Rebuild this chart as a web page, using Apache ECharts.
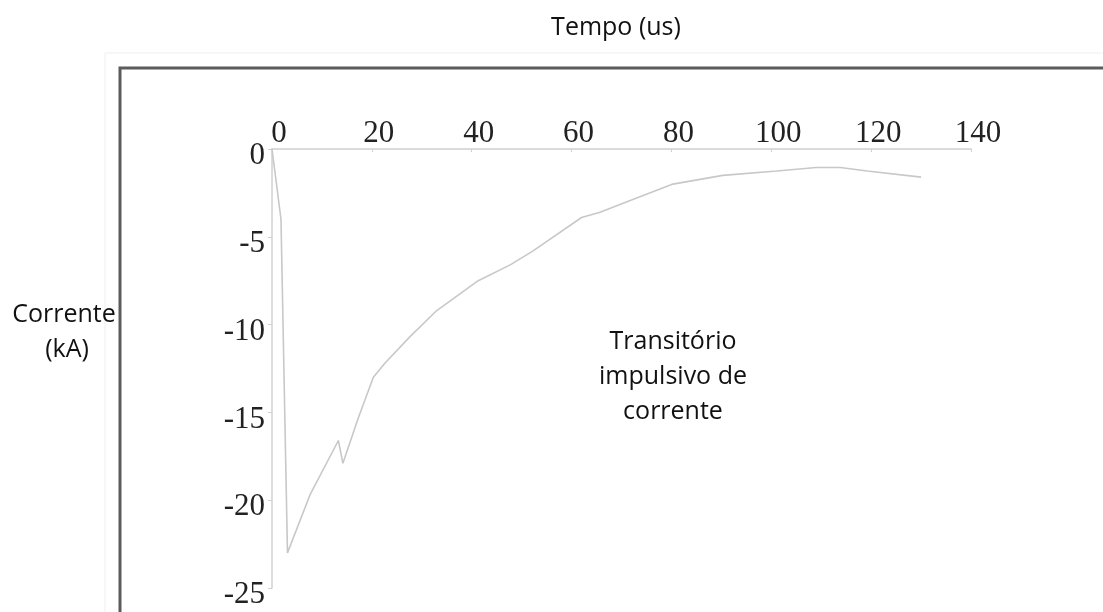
<!DOCTYPE html>
<html>
<head>
<meta charset="utf-8">
<title>Transitório impulsivo de corrente</title>
<script src="https://cdn.jsdelivr.net/npm/echarts@6/dist/echarts.min.js"></script>
<style>
  html, body { margin: 0; padding: 0; background: #fff; }
  #main { width: 1103px; height: 612px; }
</style>
</head>
<body>
<div id="main"></div>
<script>
// 数据：时间 (us) 和 电流 (kA)
var tempo = [0, 1.8, 3.1, 7.6, 13.3, 14.2, 17.3, 20.3, 22.6, 27.6, 33, 41.3, 47.7, 52.3, 62, 65.7, 71.1, 80.3, 90.3, 101.1, 109, 113.8, 119.2, 130];
var corrente = [0, -4.0, -23.0, -19.7, -16.6, -17.9, -15.3, -13.0, -12.2, -10.7, -9.2, -7.5, -6.6, -5.8, -3.9, -3.6, -3.0, -2.0, -1.5, -1.25, -1.05, -1.05, -1.25, -1.6];
// 刻度
var xTicks = [0, 20, 40, 60, 80, 100, 120, 140];
var yTicks = [0, -5, -10, -15, -20, -25];

(function () {
  var myChart = echarts.init(document.getElementById('main'));

  var pontos = tempo.map(function (t, i) {
    return [t, corrente[i]];
  });

  var axisColor = '#d0d0d0';
  var serif = '"Liberation Serif", "DejaVu Serif", serif';
  var sans = '"Open Sans", "Noto Sans", sans-serif';

  // 文字样式
  function texto(str, x, y) {
    return {
      type: 'text',
      x: x,
      y: y,
      silent: true,
      style: {
        text: str,
        fill: '#111',
        font: '25px ' + sans,
        textAlign: 'center',
        textVerticalAlign: 'middle'
      }
    };
  }

  var option = {
    backgroundColor: '#fff',
    animation: false,
    grid: {
      left: 272,
      top: 149,
      width: 699,
      height: 439
    },
    xAxis: {
      type: 'value',
      position: 'top',
      min: xTicks[0],
      max: xTicks[xTicks.length - 1],
      interval: 20,
      splitLine: { show: false },
      axisLine: { show: true, lineStyle: { color: axisColor, width: 1.5 } },
      axisTick: { show: true, length: 3, inside: true, lineStyle: { color: axisColor } },
      axisLabel: {
        color: '#222',
        fontFamily: serif,
        fontSize: 31,
        margin: 0,
        padding: [0, 0, 0, 14]
      }
    },
    yAxis: {
      type: 'value',
      min: yTicks[yTicks.length - 1],
      max: yTicks[0],
      interval: 5,
      splitLine: { show: false },
      axisLine: { show: true, lineStyle: { color: axisColor, width: 1.5 } },
      axisTick: { show: true, length: 4, lineStyle: { color: axisColor } },
      axisLabel: {
        margin: 7,
        formatter: '{a|{value}}',
        rich: {
          a: {
            color: '#222',
            fontFamily: serif,
            fontSize: 31,
            lineHeight: 34,
            padding: [14, 0, 0, 0]
          }
        }
      }
    },
    // 外框和文字
    graphic: [
      {
        type: 'rect',
        silent: true,
        shape: { x: 105, y: 53, width: 1100, height: 600 },
        style: { fill: 'none', stroke: '#efefef', lineWidth: 1 }
      },
      {
        type: 'rect',
        silent: true,
        shape: { x: 120, y: 68, width: 1000, height: 600 },
        style: { fill: 'none', stroke: '#5c5c5c', lineWidth: 3 }
      },
      texto('Tempo (us)', 616, 28),
      texto('Corrente', 64, 315),
      texto('(kA)', 67, 350),
      texto('Transitório', 673, 342),
      texto('impulsivo de', 673, 377),
      texto('corrente', 673, 412)
    ],
    series: [
      {
        name: 'Corrente',
        type: 'line',
        data: pontos,
        showSymbol: false,
        symbol: 'none',
        lineStyle: { color: '#c8c8c8', width: 1.6 }
      }
    ]
  };
  myChart.setOption(option);
  window.addEventListener('resize', function () {
    myChart.resize();
  });
})();
</script>
</body>
</html>
